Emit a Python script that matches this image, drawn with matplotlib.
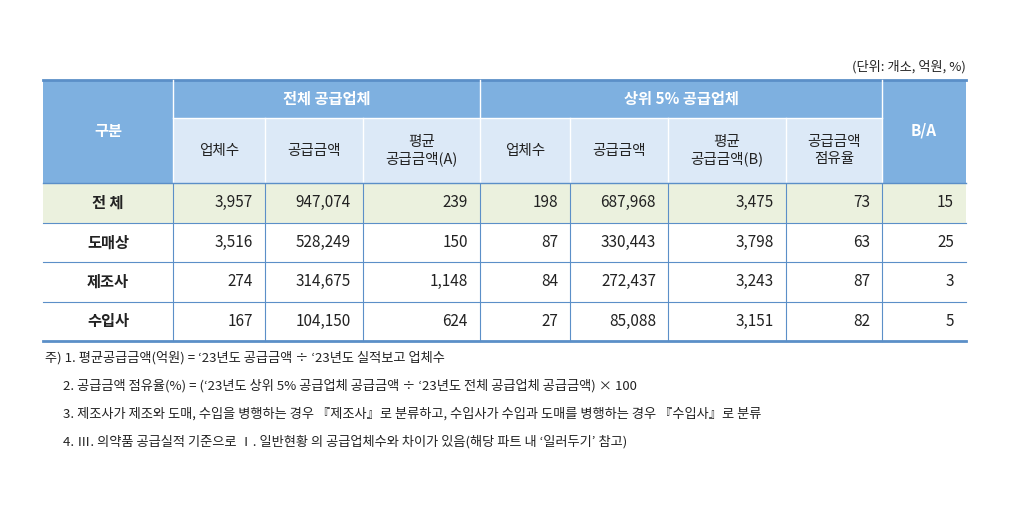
import matplotlib
matplotlib.use("Agg")
import matplotlib.pyplot as plt
from matplotlib.patches import Rectangle
from matplotlib import font_manager

names = {f.name for f in font_manager.fontManager.ttflist}
cands = [n for n in ["Noto Sans CJK KR", "Noto Sans CJK JP", "Noto Sans CJK SC",
                     "Noto Sans CJK TC"] if n in names]
plt.rcParams["font.family"] = cands + ["DejaVu Sans"]

ROWS = ["전 체", "도매상", "제조사", "수입사"]
ALL_CNT = [3957, 3516, 274, 167]
ALL_AMT = [947074, 528249, 314675, 104150]
ALL_AVG = [239, 150, 1148, 624]
TOP_CNT = [198, 87, 84, 27]
TOP_AMT = [687968, 330443, 272437, 85088]
TOP_AVG = [3475, 3798, 3243, 3151]
TOP_SHARE = [73, 63, 87, 82]
BA = [15, 25, 3, 5]
NOTES = [
    "주) 1. 평균공급금액(억원) = ‘23년도 공급금액 ÷ ‘23년도 실적보고 업체수",
    "      2. 공급금액 점유율(%) = (‘23년도 상위 5% 공급업체 공급금액 ÷ ‘23년도 전체 공급업체 공급금액) × 100",
    "      3. 제조사가 제조와 도매, 수입을 병행하는 경우 『제조사』로 분류하고, 수입사가 수입과 도매를 병행하는 경우 『수입사』로 분류",
    "      4. Ⅲ. 의약품 공급실적 기준으로 Ⅰ. 일반현황 의 공급업체수와 차이가 있음(해당 파트 내 ‘일러두기’ 참고)",
]

HEAD = "#7EB0E0"
SUB = "#DCE9F7"
GREEN = "#EBF1DE"
LINE = "#5B8FC8"
TXT = "#222222"

xs = [43, 173, 265, 363, 480, 570, 668, 786, 882, 966]
y0, y1, y2 = 80, 118, 183
rh = 39.5

fig = plt.figure(figsize=(10.19, 5.13), dpi=100)
ax = fig.add_axes([0, 0, 1, 1])
ax.set_xlim(0, 1019)
ax.set_ylim(513, 0)
ax.axis("off")

def rect(x0, yt, x1, yb, c):
    ax.add_patch(Rectangle((x0, yt), x1 - x0, yb - yt, facecolor=c, edgecolor="none"))

# header backgrounds
rect(xs[0], y0, xs[-1], y1, HEAD)
rect(xs[0], y1, xs[1], y2, HEAD)
rect(xs[-2], y1, xs[-1], y2, HEAD)
rect(xs[1], y1, xs[-2], y2, SUB)
rect(xs[0], y2, xs[-1], y2 + rh, GREEN)

ax.text(1019 - 53, 67, "(단위: 개소, 억원, %)", ha="right", va="center", fontsize=9.5, color=TXT)
ax.text((xs[0] + xs[1]) / 2, 131, "구분", ha="center", va="center", fontsize=11, color="white", weight="bold")
ax.text((xs[1] + xs[4]) / 2, 99, "전체 공급업체", ha="center", va="center", fontsize=11, color="white", weight="bold")
ax.text((xs[4] + xs[8]) / 2, 99, "상위 5% 공급업체", ha="center", va="center", fontsize=11, color="white", weight="bold")
ax.text((xs[8] + xs[9]) / 2, 131, "B/A", ha="center", va="center", fontsize=11, color="white", weight="bold")

subs = ["업체수", "공급금액", "평균\n공급금액(A)", "업체수", "공급금액", "평균\n공급금액(B)", "공급금액\n점유율"]
for i, s in enumerate(subs):
    ax.text((xs[i + 1] + xs[i + 2]) / 2, (y1 + y2) / 2, s, ha="center", va="center",
            fontsize=10.5, color=TXT, linespacing=1.2)

# grid lines
ax.plot([xs[0], xs[-1]], [y0, y0], color=LINE, lw=2)
ax.plot([xs[1], xs[-2]], [y1, y1], color="white", lw=1)
for x in xs[1:-1]:
    top = y0 if x in (xs[1], xs[4], xs[8]) else y1
    ax.plot([x, x], [top, y2], color="white", lw=1)
ax.plot([xs[0], xs[-1]], [y2, y2], color=LINE, lw=1)

cols = [ALL_CNT, ALL_AMT, ALL_AVG, TOP_CNT, TOP_AMT, TOP_AVG, TOP_SHARE, BA]
for r, name in enumerate(ROWS):
    yt = y2 + r * rh
    yc = yt + rh / 2
    ax.text((xs[0] + xs[1]) / 2, yc, name, ha="center", va="center", fontsize=11, weight="bold", color=TXT)
    for c, col in enumerate(cols):
        ax.text(xs[c + 2] - 12, yc, f"{col[r]:,}", ha="right", va="center", fontsize=11, color=TXT)
    if r < len(ROWS) - 1:
        ax.plot([xs[0], xs[-1]], [yt + rh, yt + rh], color=LINE, lw=0.8)
yb = y2 + len(ROWS) * rh
for x in xs[1:-1]:
    ax.plot([x, x], [y2, yb], color=LINE, lw=0.8)
ax.plot([xs[0], xs[-1]], [yb, yb], color=LINE, lw=2)

for i, n in enumerate(NOTES):
    ax.text(45, 358 + i * 28, n, ha="left", va="center", fontsize=9.5, color=TXT)

fig.savefig("out.png", dpi=100)
